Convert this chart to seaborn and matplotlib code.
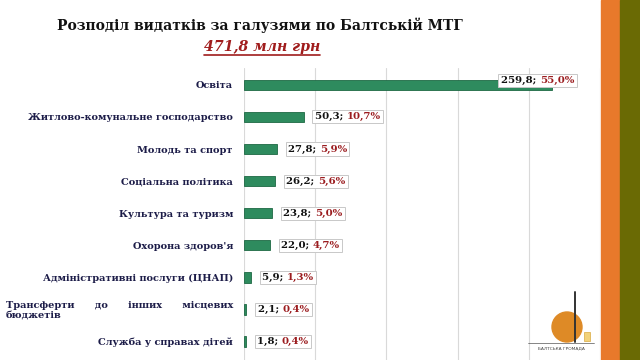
import matplotlib
matplotlib.use("Agg")
import matplotlib.pyplot as plt
from matplotlib.patches import Rectangle, Ellipse
from matplotlib.lines import Line2D
import seaborn as sns
import pandas as pd

categories = [
    "Освіта",
    "Житлово-комунальне господарство",
    "Молодь та спорт",
    "Соціальна політика",
    "Культура та туризм",
    "Охорона здоров'я",
    "Адміністративні послуги (ЦНАП)",
    "Трансферти      до      інших      місцевих\nбюджетів",
    "Служба у справах дітей",
]
amounts = [259.8, 50.3, 27.8, 26.2, 23.8, 22.0, 5.9, 2.1, 1.8]
amount_labels = ["259,8", "50,3", "27,8", "26,2", "23,8", "22,0", "5,9", "2,1", "1,8"]
share_labels = ["55,0%", "10,7%", "5,9%", "5,6%", "5,0%", "4,7%", "1,3%", "0,4%", "0,4%"]

title = "Розподіл видатків за галузями по Балтській МТГ"
subtitle = "471,8 млн грн"

df = pd.DataFrame({"cat": categories, "amount": amounts})

sns.set_theme(style="white")
plt.rcParams["font.family"] = ["DejaVu Serif"]

fig = plt.figure(figsize=(6.4, 3.6), dpi=100)
fig.patch.set_facecolor("white")
ax = fig.add_axes([244 / 640, 0, 356 / 640, 292 / 360])

sns.barplot(data=df, x="amount", y="cat", orient="h", color="#2e8b5e",
            width=0.34, edgecolor="#1d6843", linewidth=0.6, saturation=1, ax=ax)

ax.set_xlim(0, 300)
ax.set_ylim(8.59, -0.53)
ax.set_xticks([0, 60, 120, 180, 240, 300])
ax.set_xticklabels([])
ax.tick_params(axis="x", length=0)
ax.tick_params(axis="y", length=0, pad=8)
ax.grid(axis="x", color="#d9d9d9", linewidth=0.8)
ax.set_axisbelow(True)
for s in ax.spines.values():
    s.set_visible(False)
ax.set_xlabel("")
ax.set_ylabel("")
for lab in ax.get_yticklabels():
    lab.set_fontsize(7)
    lab.set_fontweight("bold")
    lab.set_color("#1c1c48")
    lab.set_multialignment("left")

# value labels: black amount + dark-red share, boxed afterwards
pairs = []
for i, (v, a, s) in enumerate(zip(amounts, amount_labels, share_labels)):
    off = -37 if i == 0 else 8
    dy = 3 if i == 0 else 0
    blk = ax.annotate(a + "; ", xy=(v, i), xytext=(off, dy), textcoords="offset points",
                      ha="left", va="center", fontsize=7.3, fontweight="bold",
                      color="#111111", zorder=7)
    red = ax.annotate(s, xy=(1, 0), xycoords=blk, ha="left", va="bottom",
                      fontsize=7.3, fontweight="bold", color="#9b1c1f", zorder=7)
    pairs.append((blk, red))

fig.text(260 / 640, 1 - 25 / 360, title, ha="center", va="center",
         fontsize=10, fontweight="bold", color="#111111")
sub = fig.text(262 / 640, 1 - 47 / 360, subtitle, ha="center", va="center",
               fontsize=10.2, fontweight="bold", fontstyle="italic", color="#a01c1c")

fig.canvas.draw()
inv = fig.transFigure.inverted()
for blk, red in pairs:
    b1 = blk.get_window_extent()
    b2 = red.get_window_extent()
    x0, y0 = min(b1.x0, b2.x0) - 2.5, min(b1.y0, b2.y0) - 2
    x1, y1 = max(b1.x1, b2.x1) + 2.5, max(b1.y1, b2.y1) + 2
    (fx0, fy0), (fx1, fy1) = inv.transform([(x0, y0), (x1, y1)])
    ax.add_patch(Rectangle((fx0, fy0), fx1 - fx0, fy1 - fy0, transform=fig.transFigure,
                           fc="white", ec="#c8c8c8", lw=0.7, zorder=6, clip_on=False))

bb = sub.get_window_extent().transformed(inv)
fig.add_artist(Line2D([bb.x0, bb.x1], [bb.y0 - 0.004, bb.y0 - 0.004],
                      transform=fig.transFigure, color="#a01c1c", lw=1.2))

# side stripes
fig.add_artist(Rectangle((601 / 640, 0), 19 / 640, 1, transform=fig.transFigure,
                         color="#e8792b", zorder=5))
fig.add_artist(Rectangle((620 / 640, 0), 20 / 640, 1, transform=fig.transFigure,
                         color="#6a6a04", zorder=5))

# little community logo
fig.add_artist(Ellipse((567 / 640, 1 - 327 / 360), 30 / 640, 30 / 360, transform=fig.transFigure,
                       color="#de8a26", zorder=4))
fig.add_artist(Line2D([575 / 640, 575 / 640], [1 - 342 / 360, 1 - 292 / 360],
                      transform=fig.transFigure, color="#333333", lw=1.4, zorder=5))
fig.add_artist(Rectangle((584 / 640, 1 - 341 / 360), 6 / 640, 9 / 360, transform=fig.transFigure,
                         fc="#f2d27a", ec="#d9a940", lw=0.5, zorder=5))
fig.add_artist(Line2D([528 / 640, 594 / 640], [1 - 343 / 360, 1 - 343 / 360],
                      transform=fig.transFigure, color="#555555", lw=0.5, zorder=5))
fig.text(561 / 640, 1 - 348 / 360, "БАЛТСЬКА ГРОМАДА", ha="center", va="center",
         fontsize=3.2, color="#444444", family=["DejaVu Sans"])

fig.savefig("out.png", dpi=100, facecolor="white")
